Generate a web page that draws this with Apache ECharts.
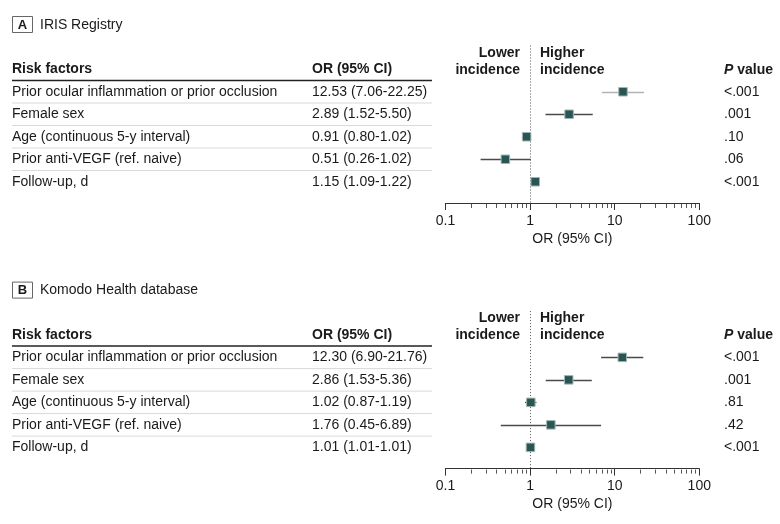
<!DOCTYPE html>
<html><head><meta charset="utf-8">
<script src="https://cdn.jsdelivr.net/npm/echarts@6/dist/echarts.min.js"></script>
<style>html,body{margin:0;padding:0;background:#fff}#c{width:780px;height:524px}</style>
</head><body><div id="c"></div>
<script>
// ---------- data ----------
const riskFactors = [
  'Prior ocular inflammation or prior occlusion',
  'Female sex',
  'Age (continuous 5-y interval)',
  'Prior anti-VEGF (ref. naive)',
  'Follow-up, d'
];
const orA   = [12.53, 2.89, 0.91, 0.51, 1.15];
const lowA  = [7.06, 1.52, 0.80, 0.26, 1.09];
const highA = [22.25, 5.50, 1.02, 1.02, 1.22];
const pA    = ['<.001', '.001', '.10', '.06', '<.001'];

const orB   = [12.30, 2.86, 1.02, 1.76, 1.01];
const lowB  = [6.90, 1.53, 0.87, 0.45, 1.01];
const highB = [21.76, 5.36, 1.19, 6.89, 1.01];
const pB    = ['<.001', '.001', '.81', '.42', '<.001'];

const xTickLabels = [0.1, 1, 10, 100];
const minorTickValues = [0.2,0.3,0.4,0.5,0.6,0.7,0.8,0.9, 2,3,4,5,6,7,8,9, 20,30,40,50,60,70,80,90];
const refOR = 1;

// ---------- style ----------
const FONT = "'Liberation Sans Narrow', 'Liberation Sans', sans-serif";
const TXT = '#1a1a1a';
const MARK = '#2b5552';
const MARK_BORDER = '#9db7b4';
const CI_COLOR = '#4a4a4a';
const CI_LIGHT = '#b3b3b3';

const chart = echarts.init(document.getElementById('c'));

const gridLeft = 445.5, gridWidth = 253.8, gridHeight = 112.5, axisOffset = 10;
const panels = [
  { top: 80.5, off: 0, letter: 'A', title: 'IRIS Registry', or: orA, low: lowA, high: highA, p: pA, ciColors: [CI_LIGHT, CI_COLOR, CI_COLOR, CI_COLOR, CI_COLOR] },
  { top: 346.1, off: 265.6, letter: 'B', title: 'Komodo Health database', or: orB, low: lowB, high: highB, p: pB, ciColors: [CI_COLOR, CI_COLOR, CI_COLOR, CI_COLOR, CI_COLOR] }
];

const fmt = v => v.toFixed(2);
const grids = [], xAxes = [], yAxes = [], series = [], graphics = [];

panels.forEach((P, k) => {
  grids.push({ left: gridLeft, width: gridWidth, top: P.top, height: gridHeight });
  xAxes.push({
    type: 'log', logBase: 10, min: 0.1, max: 100, gridIndex: k, offset: axisOffset,
    axisLine: { show: true, lineStyle: { color: '#333', width: 1 } },
    axisTick: { show: true, length: 7, lineStyle: { color: '#333', width: 1 } },
    splitLine: { show: false },
    axisLabel: {
      fontFamily: FONT, fontSize: 14, color: TXT, margin: 11,
      formatter: v => { const t = xTickLabels.find(t => Math.abs(t - v) / t < 1e-6); return t === undefined ? '' : String(t); }
    },
    name: 'OR (95% CI)', nameLocation: 'middle', nameGap: 29,
    nameTextStyle: { fontFamily: FONT, fontSize: 14, color: TXT }
  });
  const orText = P.or.map((v, i) => fmt(v) + ' (' + fmt(P.low[i]) + '-' + fmt(P.high[i]) + ')');
  yAxes.push({
    type: 'category', gridIndex: k, inverse: true, data: riskFactors,
    axisLine: { show: false }, axisTick: { show: false }, splitLine: { show: false },
    axisLabel: {
      align: 'left', margin: gridLeft - 12, fontFamily: FONT, fontSize: 14, color: TXT,
      formatter: (v, i) => '{a|' + v + '}{b|' + orText[i] + '}',
      rich: { a: { width: 300, fontFamily: FONT, fontSize: 14, color: TXT }, b: { fontFamily: FONT, fontSize: 14, color: TXT } }
    }
  });
  yAxes.push({
    type: 'category', gridIndex: k, inverse: true, position: 'right', data: riskFactors,
    axisLine: { show: false }, axisTick: { show: false }, splitLine: { show: false },
    axisLabel: { align: 'left', margin: 724 - (gridLeft + gridWidth), fontFamily: FONT, fontSize: 14, color: TXT,
      formatter: (v, i) => P.p[i] }
  });
  const yi = k * 2;
  // table row separators + header underline
  series.push({
    type: 'custom', xAxisIndex: k, yAxisIndex: yi, clip: false, silent: true,
    data: riskFactors.map((_, i) => [0.1, i]),
    encode: { x: 0, y: 1 },
    renderItem: (params, api) => {
      const cs = params.coordSys;
      const i = params.dataIndex;
      const y = cs.y + i * cs.height / riskFactors.length;
      return { type: 'line', shape: { x1: 12, y1: y, x2: 432, y2: y },
        style: i === 0 ? { stroke: '#222', lineWidth: 1.5 } : { stroke: '#d9d9d9', lineWidth: 1 } };
    }
  });
  // reference dotted line at OR = 1
  series.push({
    type: 'custom', xAxisIndex: k, yAxisIndex: yi, clip: false, silent: true,
    data: [[refOR, 0]], encode: { x: 0, y: 1 },
    renderItem: (params, api) => {
      const cs = params.coordSys;
      const x = Math.round(api.coord([api.value(0), 0])[0]) + 0.5;
      return { type: 'line', shape: { x1: x, y1: cs.y - 35, x2: x, y2: cs.y + cs.height + axisOffset },
        style: { stroke: '#555', lineWidth: 1, lineDash: [1, 2] } };
    }
  });
  // minor ticks
  series.push({
    type: 'custom', xAxisIndex: k, yAxisIndex: yi, clip: false, silent: true,
    data: minorTickValues.map(v => [v, 0]), encode: { x: 0, y: 1 },
    renderItem: (params, api) => {
      const cs = params.coordSys;
      const x = Math.round(api.coord([api.value(0), 0])[0]) + 0.5;
      const y0 = cs.y + cs.height + axisOffset;
      return { type: 'line', shape: { x1: x, y1: y0 + 1, x2: x, y2: y0 + 5 }, style: { stroke: '#555', lineWidth: 1 } };
    }
  });
  // CI lines
  series.push({
    type: 'custom', xAxisIndex: k, yAxisIndex: yi, silent: true, clip: false,
    data: P.low.map((lo, i) => [lo, P.high[i], i]), encode: { x: [0, 1], y: 2 },
    renderItem: (params, api) => {
      const i = api.value(2);
      const a = api.coord([api.value(0), i]);
      const b = api.coord([api.value(1), i]);
      const y = Math.round(a[1]) + 0.5;
      return { type: 'line', shape: { x1: a[0], y1: y, x2: b[0], y2: y }, style: { stroke: P.ciColors[params.dataIndex], lineWidth: 1.3 } };
    }
  });
  // point estimates
  series.push({
    type: 'scatter', xAxisIndex: k, yAxisIndex: yi, symbol: 'rect', symbolSize: 8.5,
    data: P.or.map((v, i) => [v, i]),
    itemStyle: { color: MARK, borderColor: MARK_BORDER, borderWidth: 1, opacity: 1 },
    emphasis: { disabled: true }, z: 5
  });

  const o = P.off;
  const bold14 = { fontFamily: FONT, fontSize: 14, fontWeight: 'bold', fill: TXT };
  graphics.push(
    { type: 'rect', shape: { x: 12.5, y: 16.5 + o, width: 20, height: 16 }, style: { stroke: '#666', fill: '#fff', lineWidth: 1 } },
    { type: 'text', x: 22.5, y: 25 + o, style: { text: P.letter, fontFamily: FONT, fontSize: 13, fontWeight: 'bold', fill: TXT, textAlign: 'center', textVerticalAlign: 'middle' } },
    { type: 'text', x: 40, y: 25 + o, style: { text: P.title, fontFamily: FONT, fontSize: 14, fill: TXT, textAlign: 'left', textVerticalAlign: 'middle' } },
    { type: 'text', x: 12, y: 69.5 + o, style: Object.assign({ text: 'Risk factors', textAlign: 'left', textVerticalAlign: 'middle' }, bold14) },
    { type: 'text', x: 312, y: 69.5 + o, style: Object.assign({ text: 'OR (95% CI)', textAlign: 'left', textVerticalAlign: 'middle' }, bold14) },
    { type: 'text', x: 520, y: 53 + o, style: Object.assign({ text: 'Lower', textAlign: 'right', textVerticalAlign: 'middle' }, bold14) },
    { type: 'text', x: 520, y: 70 + o, style: Object.assign({ text: 'incidence', textAlign: 'right', textVerticalAlign: 'middle' }, bold14) },
    { type: 'text', x: 540, y: 53 + o, style: Object.assign({ text: 'Higher', textAlign: 'left', textVerticalAlign: 'middle' }, bold14) },
    { type: 'text', x: 540, y: 70 + o, style: Object.assign({ text: 'incidence', textAlign: 'left', textVerticalAlign: 'middle' }, bold14) },
    { type: 'text', x: 724, y: 70 + o, style: { text: '{i|P} value', textAlign: 'left', textVerticalAlign: 'middle',
        fontFamily: FONT, fontSize: 14, fontWeight: 'bold', fill: TXT,
        rich: { i: { fontFamily: FONT, fontSize: 14, fontWeight: 'bold', fontStyle: 'italic', fill: TXT } } } }
  );
});

chart.setOption({
  animation: false,
  backgroundColor: '#fff',
  grid: grids, xAxis: xAxes, yAxis: yAxes, series: series,
  graphic: graphics
});
</script></body></html>
